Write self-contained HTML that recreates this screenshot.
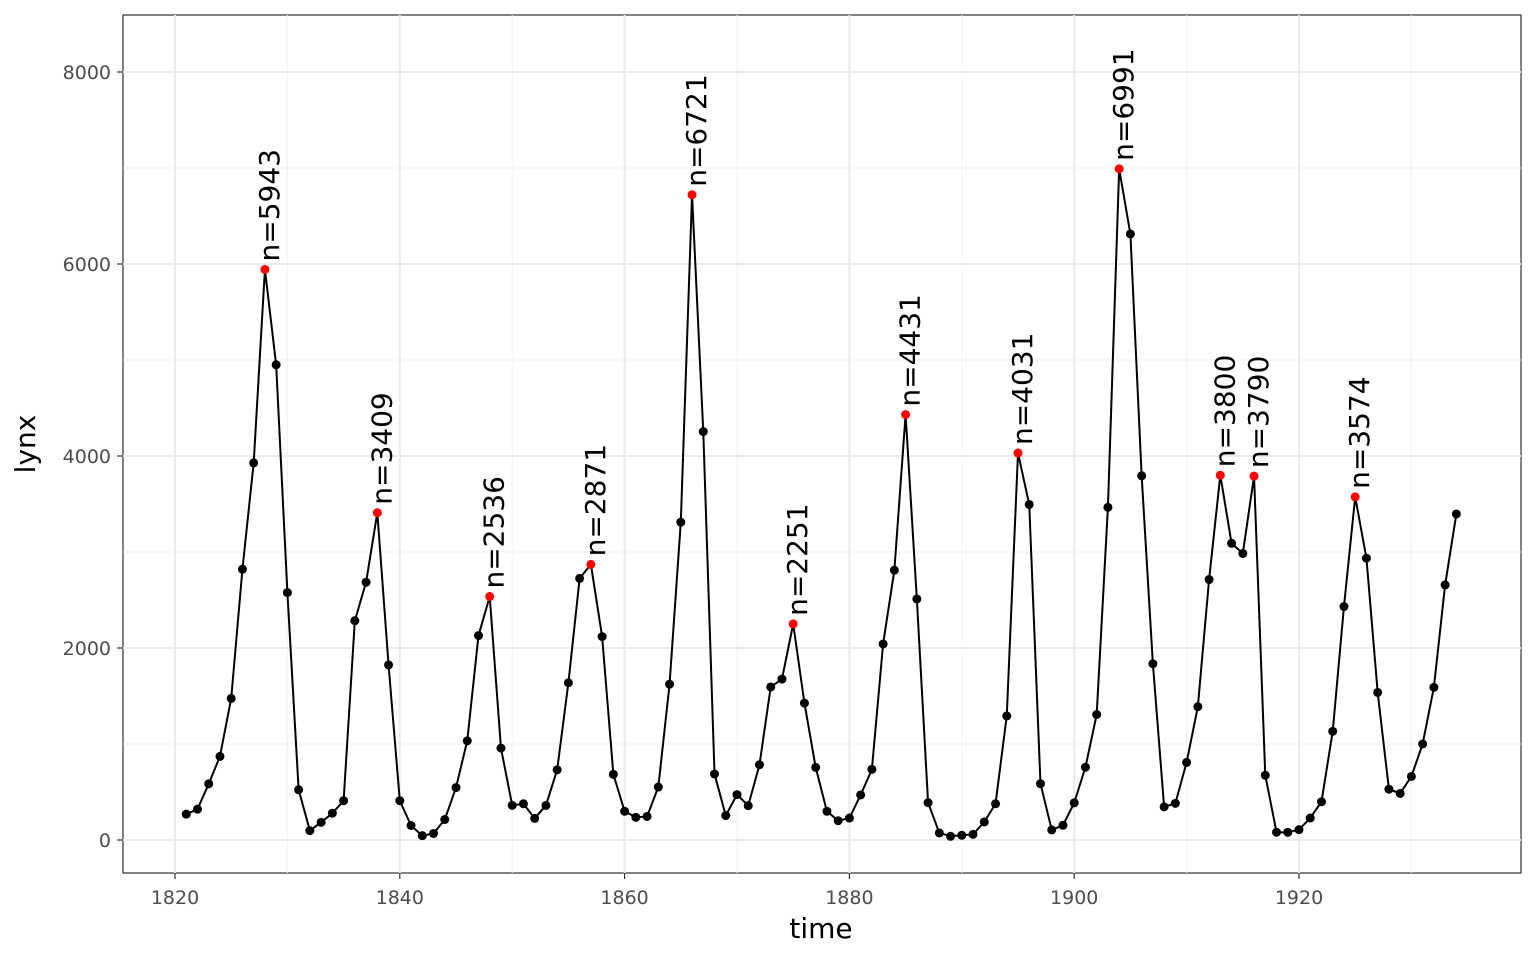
<!DOCTYPE html>
<html><head><meta charset="utf-8"><style>
html,body{margin:0;padding:0;background:#fff;}
svg{display:block;font-family:"DejaVu Sans","Liberation Sans",sans-serif;}
</style></head><body>
<svg id="chart" width="1536" height="960">
<rect x="123" y="15" width="1398" height="858" fill="#fff" stroke="#333" stroke-width="1.2"/>
<g id="grid"></g><g id="marks"></g><g id="axes"></g>
<text x="821" y="938" font-size="28" text-anchor="middle" fill="#000">time</text>
<text transform="translate(35,444) rotate(-90)" font-size="28" text-anchor="middle" fill="#000">lynx</text>
</svg>
<script>
const startYear = 1821;
const lynx = [269,321,585,871,1475,2821,3928,5943,4950,2577,523,98,184,279,409,2285,2685,3409,1824,409,151,45,68,213,546,1033,2129,2536,957,361,377,225,360,731,1638,2725,2871,2119,684,299,236,245,552,1623,3311,6721,4254,687,255,473,358,784,1594,1676,2251,1426,756,299,201,229,469,736,2042,2811,4431,2511,389,73,39,49,59,188,377,1292,4031,3495,587,105,153,387,758,1307,3465,6991,6313,3794,1836,345,382,808,1388,2713,3800,3091,2985,3790,674,81,80,108,229,399,1132,2432,3574,2935,1537,529,485,662,1000,1590,2657,3396];
const peakYears = [1828,1838,1848,1857,1866,1875,1885,1895,1904,1913,1916,1925];
const xTicks = [1820,1840,1860,1880,1900,1920];
const xMinor = [1830,1850,1870,1890,1910,1930];
const yTicks = [0,2000,4000,6000,8000];
const yMinor = [1000,3000,5000,7000];
const X = t => 175 + (t-1820)*11.24;
const Y = v => 840 - v*0.096;
const NS="http://www.w3.org/2000/svg";
function mk(tag,attrs,parent){const e=document.createElementNS(NS,tag);for(const k in attrs)e.setAttribute(k,attrs[k]);parent.appendChild(e);return e;}
const grid=document.getElementById('grid'),marks=document.getElementById('marks'),axes=document.getElementById('axes');
xMinor.forEach(t=>{const l=mk('line',{x1:X(t),x2:X(t),y1:15,y2:873,stroke:'#f2f2f2','stroke-width':1},grid);
});
yMinor.forEach(v=>{const l=mk('line',{x1:123,x2:1521,y1:Y(v),y2:Y(v),stroke:'#f2f2f2','stroke-width':1},grid);
});
xTicks.forEach(t=>{const l=mk('line',{x1:X(t),x2:X(t),y1:15,y2:873,stroke:'#ebebeb','stroke-width':2},grid);

const k=mk('line',{x1:X(t),x2:X(t),y1:873,y2:879,stroke:'#333','stroke-width':1.2},axes);

const tx=mk('text',{x:X(t),y:904,'font-size':19,'text-anchor':'middle',fill:'#4d4d4d'},axes);tx.textContent=t;
});
yTicks.forEach(v=>{const l=mk('line',{x1:123,x2:1521,y1:Y(v),y2:Y(v),stroke:'#ebebeb','stroke-width':2},grid);

const k=mk('line',{x1:117,x2:123,y1:Y(v),y2:Y(v),stroke:'#333','stroke-width':1.2},axes);

const tx=mk('text',{x:111,y:Y(v)+7,'font-size':19,'text-anchor':'end',fill:'#4d4d4d'},axes);tx.textContent=v;
});
const pts=lynx.map((v,i)=>X(startYear+i)+','+Y(v)).join(' ');
const pl=mk('polyline',{points:pts,fill:'none',stroke:'#000','stroke-width':2},marks);

lynx.forEach((v,i)=>{const yr=startYear+i;const red=peakYears.includes(yr);
const c=mk('circle',{cx:X(yr),cy:Y(v),r:4.5,fill:red?'#ff0000':'#000'},marks);
});
peakYears.forEach(yr=>{const v=lynx[yr-startYear];const x=X(yr)+14,y=Y(v)-8;
const tx=mk('text',{transform:`translate(${x},${y}) rotate(-90)`,'font-size':28,fill:'#000','text-anchor':'start'},marks);
tx.textContent='n='+v;
});
</script>
</body></html>
